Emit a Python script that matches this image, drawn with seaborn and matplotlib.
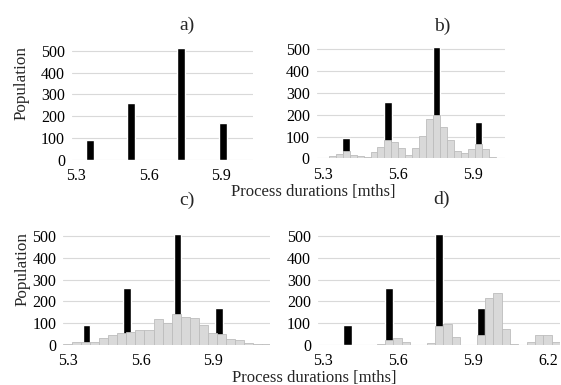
import numpy as np
import matplotlib.pyplot as plt
import seaborn as sns

# population of the four discrete process durations (black bars)
black_pop = [92, 260, 510, 168]
# position of the black bars on each panel's axis
black_x_a = [5.357, 5.528, 5.733, 5.905]
black_x_b = [5.391, 5.559, 5.754, 5.921]
black_x_c = [5.375, 5.544, 5.751, 5.923]
black_x_d = [5.397, 5.563, 5.763, 5.930]

# grey histograms: first bin edge, bin width, counts
grey_b_start, grey_b_width = 5.2936, 0.0279
grey_b = [2, 9, 20, 35, 15, 11, 5, 28, 52, 84, 73, 47, 15, 47, 104, 180,
          200, 142, 83, 34, 23, 41, 67, 41, 5, 2]
grey_c_start, grey_c_width = 5.2793, 0.0373
grey_c = [4, 14, 12, 14, 31, 47, 55, 60, 67, 70, 117, 100, 140, 130, 124,
          90, 57, 50, 26, 22, 9, 4, 4]
grey_d_start, grey_d_width = 5.3133, 1 / 30
grey_d = [0, 0, 0, 0, 0, 0, 5, 23, 31, 12, 0, 0, 11, 85, 96, 37, 0, 0, 44,
          216, 240, 75, 3, 0, 12, 48, 48, 12]

x_ticks = [5.3, 5.6, 5.9]
x_ticks_d = [5.3, 5.6, 5.9, 6.2]
y_ticks = [0, 100, 200, 300, 400, 500]

sns.set_style("white")
plt.rcParams['font.family'] = ['Liberation Serif', 'DejaVu Serif']

W, H = 561, 385
fig = plt.figure(figsize=(W / 100, H / 100), dpi=100)


def px_axes(x0, x1, y_top, y_bot):
    return fig.add_axes([x0 / W, 1 - y_bot / H, (x1 - x0) / W, (y_bot - y_top) / H])


def draw_black(ax, xs, bw):
    sns.barplot(x=xs, y=black_pop, native_scale=True,
                width=bw / np.min(np.diff(xs)), color='black', saturation=1,
                errorbar=None, ax=ax, zorder=2)


def draw_grey(ax, start, bw, counts):
    centers = start + bw * (np.arange(len(counts)) + 0.5)
    sns.barplot(x=centers, y=counts, native_scale=True, width=1,
                color='#d9d9d9', edgecolor='#bdbdbd', linewidth=0.6,
                saturation=1, errorbar=None, ax=ax, zorder=3)


def style(ax, xlim, ticks):
    ax.set_xlim(*xlim)
    ax.set_ylim(0, 520)
    ax.set_yticks(y_ticks)
    ax.set_xticks(ticks)
    ax.set_xticklabels([f"{t:.1f}" for t in ticks])
    ax.grid(axis='y', color='#d9d9d9', lw=0.8)
    ax.grid(axis='x', visible=False)
    ax.set_axisbelow(True)
    for s in ax.spines.values():
        s.set_visible(False)
    ax.tick_params(length=0, labelsize=11.5, colors='black')
    ax.tick_params(axis='x', pad=6)
    ax.tick_params(axis='y', pad=5)
    ax.set_xlabel('')
    ax.set_ylabel('')


ax_a = px_axes(72, 253, 46.3, 160)
draw_black(ax_a, black_x_a, 0.033)
style(ax_a, (5.2835, 6.03), x_ticks)

ax_b = px_axes(316.7, 505, 45, 158.3)
draw_black(ax_b, black_x_b, 0.029)
draw_grey(ax_b, grey_b_start, grey_b_width, grey_b)
style(ax_b, (5.2736, 6.027), x_ticks)

ax_c = px_axes(63.3, 270, 231.6, 345)
draw_black(ax_c, black_x_c, 0.032)
draw_grey(ax_c, grey_c_start, grey_c_width, grey_c)
style(ax_c, (5.2793, 6.134), x_ticks)

ax_d = px_axes(318, 560, 231.6, 345)
draw_black(ax_d, black_x_d, 0.0333)
draw_grey(ax_d, grey_d_start, grey_d_width, grey_d)
style(ax_d, (5.2788, 6.2468), x_ticks_d)


def label(x, y, s, size, rot=0):
    fig.text(x / W, 1 - y / H, s, ha='center', va='center', fontsize=size, rotation=rot)


label(187, 25.5, 'a)', 14)
label(442, 26, 'b)', 14)
label(187, 200, 'c)', 14)
label(442, 199, 'd)', 14)
label(313, 192, 'Process durations [mths]', 12)
label(314, 378.5, 'Process durations [mths]', 12)
label(22, 83, 'Population', 12.3, 90)
label(22.5, 269, 'Population', 12.3, 90)

fig.savefig('out.png', dpi=100)
